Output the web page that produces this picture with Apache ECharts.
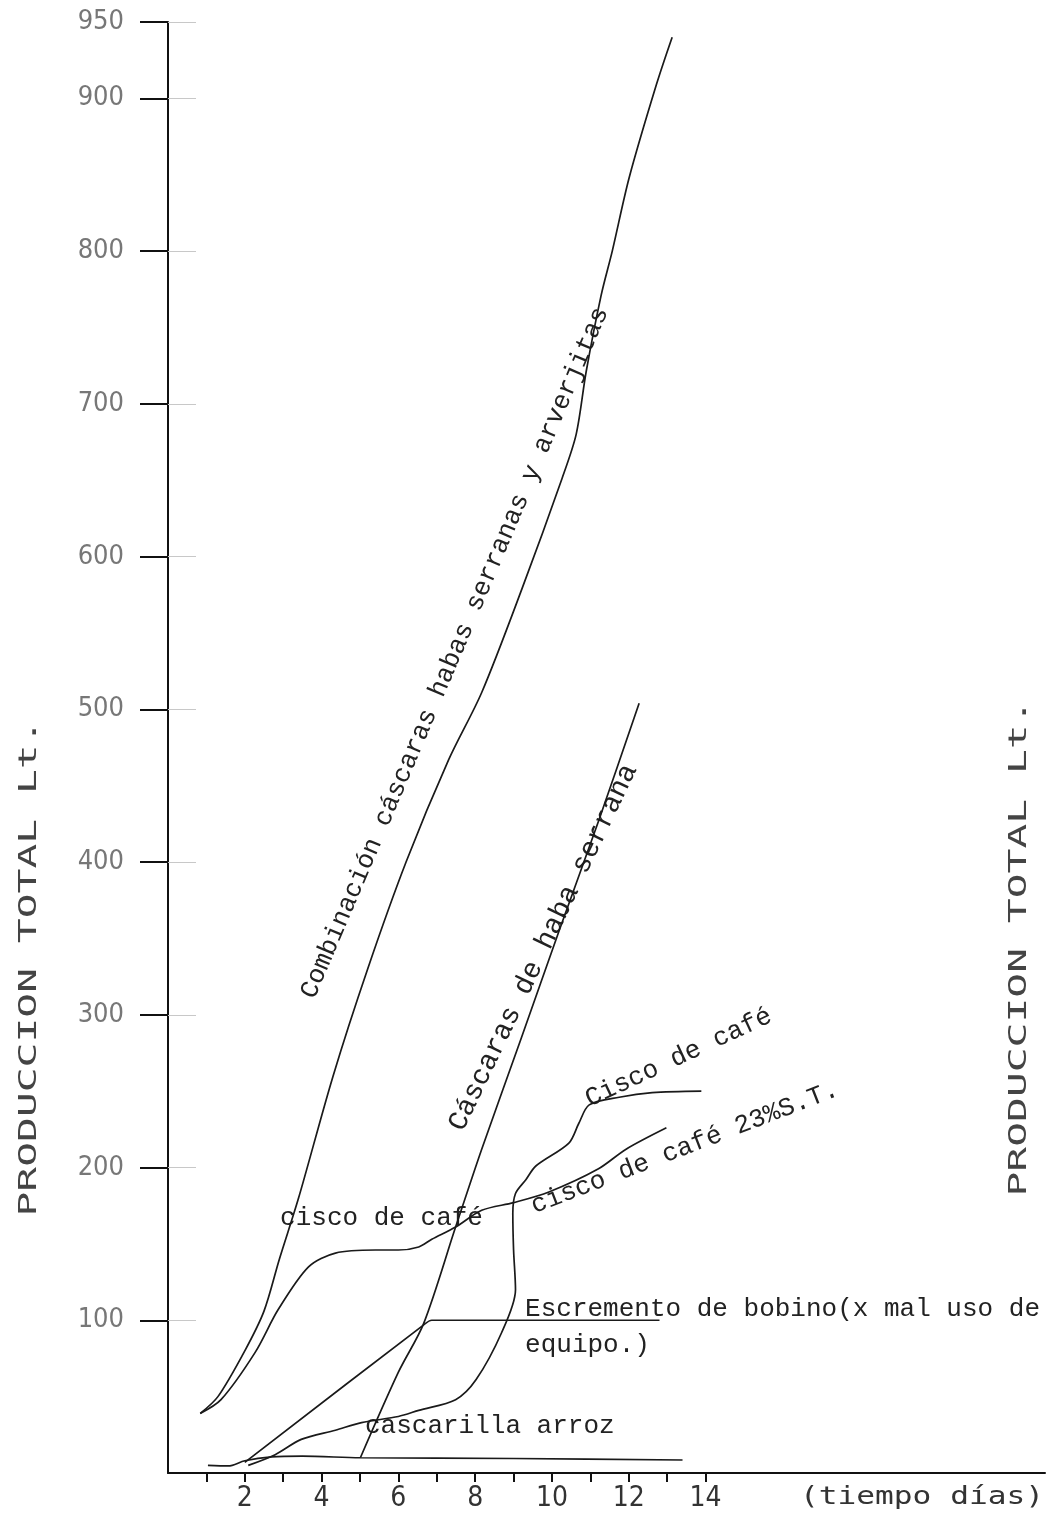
<!DOCTYPE html>
<html><head><meta charset="utf-8">
<script src="https://cdn.jsdelivr.net/npm/echarts@6/dist/echarts.min.js"></script>
<style>html,body{margin:0;padding:0;background:#fff}#c{width:1057px;height:1513px}</style>
</head><body><div id="c"></div>
<script>
// ---- data (days, litres) ----
const xTickValues = [1,2,3,4,5,6,7,8,9,10,11,12,13,14];
const xLabelValues = [2,4,6,8,10,12,14];
const yLabelValues = [100,200,300,400,500,600,700,800,900,950];

const combinacion = [[0.84,39],[1.3,50],[2.0,80],[2.5,106],[2.9,140],[3.4,180],[4.3,260],[5.2,330],[6.2,400],[7.31,467],[8.17,511],[9.22,579],[10.26,651],[10.63,680],[10.89,721],[11.28,771],[11.57,800],[12.01,848],[12.72,909],[13.13,940]];
const habaSerrana = [[5.01,10],[6.0,66],[6.66,98],[7.49,161],[8.17,212],[9.19,284],[10.2,356],[11.23,428],[12.27,504]];
const ciscoCafe23 = [[0.84,39],[1.38,48],[2.27,79],[2.87,107],[3.66,135],[4.36,144],[5.4,146],[6.0,146],[6.53,148],[6.87,153],[7.49,161],[8.17,172],[9.0,177],[9.92,184],[11.2,199],[11.93,212],[12.98,226]];
const ciscoCafe = [[2.09,5],[2.79,12],[3.47,22],[4.36,28],[5.04,33],[6.0,37],[6.53,41],[7.49,48],[8.02,61],[8.69,92],[9.05,120],[9.0,146],[8.98,170],[9.05,183],[9.32,192],[9.58,201],[10.44,216],[10.7,229],[10.97,241],[11.75,246],[12.61,249],[13.89,250]];
const escremento = [[2.0,7],[6.66,97],[6.87,100],[12.8,100]];
const cascarilla = [[1.04,5],[1.57,4.6],[2.0,8],[2.7,10.5],[3.5,11],[5.0,10],[9.0,9.5],[13.4,8.5]];

// annotation anchors in data units
const labels = [
  {text:'Combinación cáscaras habas serranas y arverjitas', at:[7.47,537], rot:66.9, align:'center', size:26},
  {text:'Cáscaras de haba serrana', at:[9.77,344], rot:64.4, align:'center', size:28},
  {text:'Cisco de café', at:[13.3,272], rot:25, align:'center', size:26},
  {text:'cisco de café 23%S.T.', at:[13.46,213], rot:21.2, align:'center', size:26},
  {text:'cisco de café', at:[2.92,167], rot:0, align:'left', size:26},
  {text:'Escremento de bobino(x mal uso de', at:[9.3,107], rot:0, align:'left', size:26},
  {text:'equipo.)', at:[9.3,84], rot:0, align:'left', size:26},
  {text:'cascarilla arroz', at:[5.13,31], rot:0, align:'left', size:26}
];

const LINE = {color:'#1a1a1a', width:1.7};
function mk(name, data){
  return {name, type:'line', data, showSymbol:false, symbol:'none', smooth:0.3,
    lineStyle:LINE, itemStyle:{color:'#1a1a1a'}, xAxisIndex:0, yAxisIndex:0, animation:false, silent:true};
}

const chart = echarts.init(document.getElementById('c'));
const serifMono = "'Liberation Mono','DejaVu Sans Mono',monospace";
const narrow = "'Liberation Sans Narrow','DejaVu Sans Condensed',sans-serif";
chart.setOption({
  animation:false,
  backgroundColor:'#fff',
  grid:{left:168, right:12, top:22, bottom:40, containLabel:false},
  xAxis:{type:'value', min:0, max:22.84, splitLine:{show:false},
    axisLine:{show:true, onZero:false, lineStyle:{color:'#111', width:2}},
    axisTick:{show:true, customValues:xTickValues, length:9, lineStyle:{color:'#111', width:2}},
    axisLabel:{customValues:xLabelValues, margin:12, fontSize:28, color:'#333', fontFamily:narrow}},
  yAxis:[
    {type:'value', min:0, max:950, splitLine:{show:false},
      axisLine:{show:true, onZero:false, lineStyle:{color:'#111', width:2}},
      axisTick:{show:true, customValues:yLabelValues, length:28, lineStyle:{color:'#111', width:2}},
      axisLabel:{customValues:yLabelValues, margin:44, fontSize:27, color:'#777', fontFamily:narrow}},
    {type:'value', min:0, max:950, position:'left', splitLine:{show:false},
      axisLine:{show:false}, axisLabel:{show:false},
      axisTick:{show:true, inside:true, customValues:yLabelValues, length:28, lineStyle:{color:'#c8c8c8', width:1}}}
  ],
  series:[
    mk('Combinación cáscaras habas serranas y arverjitas', combinacion),
    mk('Cáscaras de haba serrana', habaSerrana),
    mk('cisco de café 23%S.T.', ciscoCafe23),
    mk('Cisco de café', ciscoCafe),
    mk('Escremento de bobino', escremento),
    mk('cascarilla arroz', cascarilla)
  ]
});

const g = labels.map(l => {
  const p = chart.convertToPixel({gridIndex:0}, l.at);
  return {type:'text', x:p[0], y:p[1], rotation:l.rot*Math.PI/180, silent:true,
    style:{text:l.text, fill:'#222', font:l.size + "px " + serifMono, align:l.align, verticalAlign:'middle'}};
});
const sansMono = "'DejaVu Sans Mono',monospace";
g.push({type:'text', x:30, y:968, rotation:Math.PI/2, scaleX:1.72, silent:true,
  style:{text:'PRODUCCION TOTAL Lt.', fill:'#444', font:"24px " + sansMono, align:'center', verticalAlign:'middle'}});
g.push({type:'text', x:1020, y:948, rotation:Math.PI/2, scaleX:1.72, silent:true,
  style:{text:'PRODUCCION TOTAL Lt.', fill:'#444', font:"24px " + sansMono, align:'center', verticalAlign:'middle'}});
g.push({type:'text', x:922, y:1498, scaleX:1.3, silent:true,
  style:{text:'(tiempo días)', fill:'#333', font:"24px " + sansMono, align:'center', verticalAlign:'middle'}});
chart.setOption({graphic:g});
</script>
</body></html>
